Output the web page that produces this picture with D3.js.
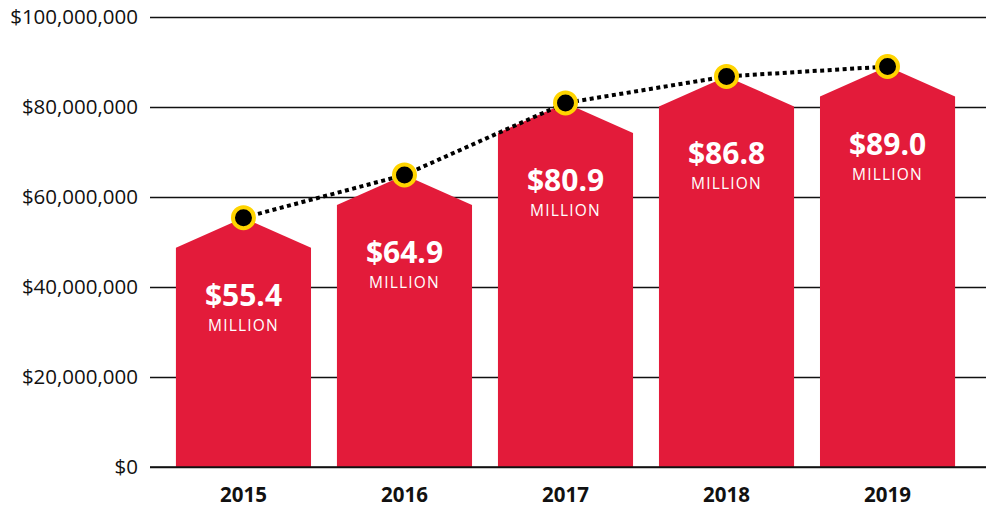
<html>
<head>
<meta charset="utf-8">
<title>Revenue 2015-2019</title>
<style>
  body { margin: 0; background: #fff; }
  text { font-family: "Open Sans", sans-serif; }
</style>
</head>
<body>
<div id="container"></div>
<script src="https://cdn.jsdelivr.net/npm/d3@7/dist/d3.min.js"></script>
<script>
var years = ["2015", "2016", "2017", "2018", "2019"];
var values = [55.4, 64.9, 80.9, 86.8, 89.0];       // millions of dollars
var valueLabels = ["$55.4", "$64.9", "$80.9", "$86.8", "$89.0"];
var yTicks = [0, 20, 40, 60, 80, 100];

function main() {
  var width = 986, height = 511;
  var red = "#e31b3a";

  var svg = d3.select("#container").append("svg")
    .attr("width", width)
    .attr("height", height);

  var x = d3.scaleBand()
    .domain(years)
    .range([150, 981])
    .paddingInner(0.161)
    .paddingOuter(0.161);

  var y = d3.scaleLinear()
    .domain([0, 100])
    .range([467, 17]);

  // gridlines + y labels
  var yAxis = d3.axisLeft(y)
    .tickValues(yTicks)
    .tickSize(-(width - 150))
    .tickPadding(12)
    .tickFormat(function(d) { return "$" + d3.format(",")(d * 1000000); });

  var ga = svg.append("g")
    .attr("transform", "translate(150,0)")
    .call(yAxis);
  ga.select(".domain").remove();
  ga.selectAll(".tick line").attr("stroke", "#111").attr("stroke-width", 1.5);
  ga.selectAll(".tick text")
    .attr("font-size", 20.5)
    .attr("fill", "#111")
    .attr("x", -12);

  // bars with pointed tops
  var shoulder = 30;
  svg.append("g").selectAll("path")
    .data(years)
    .enter().append("path")
    .attr("fill", red)
    .attr("d", function(d, i) {
      var x0 = x(d), x1 = x(d) + x.bandwidth(), xm = x(d) + x.bandwidth() / 2;
      var yp = y(values[i]);
      return "M" + x0 + "," + y(0) +
        "L" + x0 + "," + (yp + shoulder) +
        "L" + xm + "," + yp +
        "L" + x1 + "," + (yp + shoulder) +
        "L" + x1 + "," + y(0) + "Z";
    });

  // baseline
  svg.append("line")
    .attr("x1", 150).attr("x2", width)
    .attr("y1", y(0)).attr("y2", y(0))
    .attr("stroke", "#111").attr("stroke-width", 1.5);

  // value labels
  var lbl = svg.append("g").selectAll("g")
    .data(years)
    .enter().append("g")
    .attr("transform", function(d, i) {
      return "translate(" + (x(d) + x.bandwidth() / 2) + "," + y(values[i]) + ")";
    });
  lbl.append("text")
    .attr("text-anchor", "middle")
    .attr("y", 88)
    .attr("font-size", 30)
    .attr("font-weight", 700)
    .attr("fill", "#fff")
    .text(function(d, i) { return valueLabels[i]; });
  lbl.append("text")
    .attr("text-anchor", "middle")
    .attr("y", 113)
    .attr("font-size", 15.5)
    .attr("letter-spacing", 1.2)
    .attr("fill", "#fff")
    .text("MILLION");

  // dotted trend line
  var line = d3.line()
    .x(function(d, i) { return x(years[i]) + x.bandwidth() / 2; })
    .y(function(d) { return y(d); });
  svg.append("path")
    .datum(values)
    .attr("d", line)
    .attr("fill", "none")
    .attr("stroke", "#000")
    .attr("stroke-width", 4)
    .attr("stroke-dasharray", "4,3.5");

  svg.append("g").selectAll("circle")
    .data(values)
    .enter().append("circle")
    .attr("cx", function(d, i) { return x(years[i]) + x.bandwidth() / 2; })
    .attr("cy", function(d) { return y(d); })
    .attr("r", 10.5)
    .attr("fill", "#000")
    .attr("stroke", "#ffd400")
    .attr("stroke-width", 4);

  // x labels
  svg.append("g").selectAll("text")
    .data(years)
    .enter().append("text")
    .attr("x", function(d) { return x(d) + x.bandwidth() / 2; })
    .attr("y", 502)
    .attr("text-anchor", "middle")
    .attr("font-size", 20.5)
    .attr("font-weight", 700)
    .attr("fill", "#111")
    .text(function(d) { return d; });
}

window.onload = main;
</script>
</body>
</html>
